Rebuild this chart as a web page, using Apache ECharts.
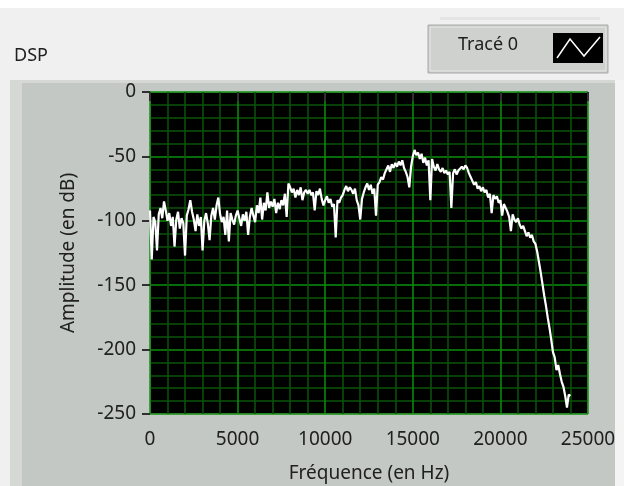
<!DOCTYPE html>
<html>
<head>
<meta charset="utf-8">
<title>DSP</title>
<script src="https://cdn.jsdelivr.net/npm/echarts@6/dist/echarts.min.js"></script>
<style>
  html, body { margin: 0; padding: 0; background: #f0f0f0; }
  #chart { width: 624px; height: 486px; }
</style>
</head>
<body>
<div id="chart"></div>
<script>
// spectre : un point tous les 100 Hz, de 0 a 24000 Hz
const freqStep = 100;
const amplitude = [
  -92, -130, -97, -101, -123, -95, -90, -98, -85, -92,
  -100, -94, -104, -97, -120, -99, -93, -106, -98, -102,
  -127, -96, -91, -84, -93, -99, -108, -95, -104, -97,
  -123, -100, -94, -102, -115, -96, -90, -99, -88, -82,
  -95, -101, -97, -111, -92, -116, -94, -99, -103, -96,
  -92, -98, -104, -95, -100, -93, -111, -97, -90, -96,
  -101, -88, -94, -82, -99, -86, -92, -78, -90, -85,
  -89, -83, -94, -86, -91, -84, -88, -79, -97, -71,
  -74, -78, -75, -82, -76, -80, -74, -84, -78, -76,
  -79, -76, -80, -78, -92, -77, -80, -75, -83, -88,
  -84, -81, -86, -83, -89, -87, -113, -84, -86, -82,
  -80, -76, -73, -77, -74, -76, -79, -75, -84, -88,
  -99, -83, -78, -74, -71, -76, -72, -79, -75, -96,
  -72, -70, -66, -68, -63, -60, -57, -62, -56, -59,
  -55, -58, -54, -57, -53, -59, -62, -66, -74, -58,
  -50, -45, -49, -47, -52, -48, -55, -51, -57, -53,
  -84, -52, -58, -61, -56, -60, -62, -59, -63, -61,
  -64, -62, -90, -63, -60, -64, -61, -62, -58, -60,
  -57, -59, -63, -66, -69, -72, -70, -75, -73, -77,
  -74, -78, -76, -82, -79, -94, -80, -83, -81, -86,
  -84, -96, -87, -90, -93, -97, -108, -95, -99, -101,
  -98, -103, -106, -104, -108, -112, -109, -113, -111, -116,
  -118, -124, -132, -140, -149, -158, -166, -175, -183, -192,
  -202, -206, -216, -212, -219, -225, -229, -236, -245, -235,
  -236
];
const xTicks = [0, 5000, 10000, 15000, 20000, 25000];
const yTicks = [0, -50, -100, -150, -200, -250];

const points = amplitude.map((v, i) => [i * freqStep, v]);

const chart = echarts.init(document.getElementById('chart'));

const labelFont = { color: '#202020', fontSize: 19, fontFamily: 'Noto Sans' };

chart.setOption({
  animation: false,
  backgroundColor: '#f0f0f0',
  graphic: [
    // bande blanche du haut
    { type: 'rect', z: -10, shape: { x: 0, y: 0, width: 624, height: 8 }, style: { fill: '#ffffff' } },
    // cadre gris du graphe
    { type: 'rect', z: -10, shape: { x: 10, y: 80, width: 605, height: 406 }, style: { fill: '#c4c8c4' } },
    { type: 'rect', z: -9, shape: { x: 10, y: 80, width: 12, height: 406 }, style: { fill: '#d6d8d6' } },
    { type: 'rect', z: -9, shape: { x: 10, y: 80, width: 605, height: 3 }, style: { fill: '#d6d8d6' } },
    { type: 'rect', z: -10, shape: { x: 615, y: 80, width: 9, height: 406 }, style: { fill: '#f4f4f4' } },
    { type: 'text', left: 14, top: 47, style: { text: 'DSP', fill: '#202020', font: '18px "Noto Sans"' } },
    // legende
    { type: 'rect', z: 5, shape: { x: 440, y: 17, width: 160, height: 3 }, style: { fill: '#e4e4e4' } },
    { type: 'rect', z: 5, shape: { x: 428, y: 25, width: 180, height: 48 }, style: { fill: '#c8cac8', stroke: '#a8aaa8', lineWidth: 1 } },
    { type: 'rect', z: 5, shape: { x: 430, y: 27, width: 176, height: 44 }, style: { fill: '#cfd1cf', stroke: '#e8e8e8', lineWidth: 1 } },
    { type: 'text', z: 6, left: 458, top: 36, style: { text: 'Tracé 0', fill: '#202020', font: '18px "Noto Sans"' } },
    { type: 'rect', z: 6, shape: { x: 553, y: 33, width: 50, height: 30 }, style: { fill: '#000000' } },
    { type: 'polyline', z: 7, shape: { points: [[557, 58], [570, 39], [584, 56], [600, 37]] }, style: { stroke: '#ffffff', lineWidth: 1.5, fill: null } }
  ],
  grid: {
    left: 150, right: 36, top: 92, bottom: 72,
    outerBoundsMode: 'none',
    show: true,
    backgroundColor: '#000000',
    borderColor: '#d4d4d4',
    borderWidth: 1
  },
  xAxis: {
    type: 'value',
    min: 0, max: 25000, interval: 5000,
    name: 'Fréquence (en Hz)',
    nameLocation: 'middle',
    nameGap: 50,
    nameTextStyle: labelFont,
    axisLine: { show: false },
    axisTick: { show: true, inside: false, length: 9, lineStyle: { color: '#303030', width: 2 } },
    axisLabel: Object.assign({ margin: 16, formatter: v => xTicks.includes(v) ? String(v) : '' }, labelFont),
    splitLine: { show: true, lineStyle: { color: '#0a8f0a', width: 1.5 } },
    minorTick: { show: false, splitNumber: 5 },
    minorSplitLine: { show: true, lineStyle: { color: '#0a540a', width: 1.5 } }
  },
  yAxis: {
    type: 'value',
    min: -250, max: 0, interval: 50,
    name: 'Amplitude (en dB)',
    nameLocation: 'middle',
    nameGap: 72,
    nameTextStyle: labelFont,
    axisLine: { show: false },
    axisTick: { show: true, inside: false, length: 8, lineStyle: { color: '#303030', width: 2 } },
    axisLabel: Object.assign({ margin: 14, formatter: v => yTicks.includes(v) ? String(v) : '' }, labelFont),
    splitLine: { show: true, lineStyle: { color: '#0a8f0a', width: 1.5 } },
    minorTick: { show: false, splitNumber: 5 },
    minorSplitLine: { show: true, lineStyle: { color: '#0a540a', width: 1.5 } }
  },
  series: [{
    name: 'Tracé 0',
    type: 'line',
    data: points,
    showSymbol: false,
    silent: true,
    lineStyle: { color: '#ffffff', width: 2.2 },
    z: 3
  }]
});
</script>
</body>
</html>
